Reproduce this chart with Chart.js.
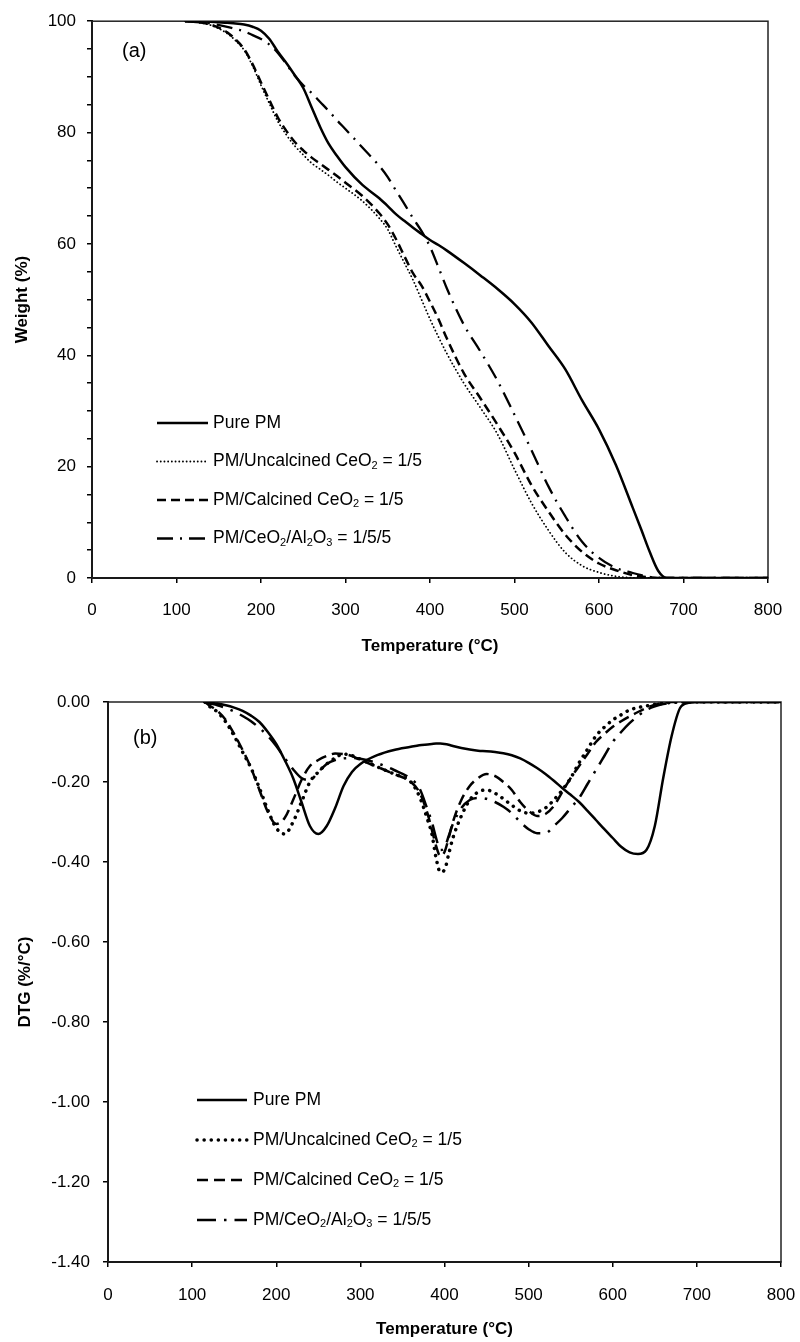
<!DOCTYPE html>
<html>
<head>
<meta charset="utf-8">
<script src="https://cdn.jsdelivr.net/npm/chart.js@4.4.1/dist/chart.umd.min.js"></script>
<style>
  html, body { margin: 0; padding: 0; background: #fff; }
  #wrap { position: relative; width: 800px; height: 1342px; }
  canvas { position: absolute; left: 0; }
  #tgaChart { top: 0; }
  #dtgChart { top: 665px; }
</style>
</head>
<body>
<div id="wrap">
  <canvas id="tgaChart" width="800" height="665"></canvas>
  <canvas id="dtgChart" width="800" height="677"></canvas>
</div>
<script>
// ---- data (a): weight loss vs temperature ----
const tempA = [110, 120, 140, 160, 170, 180, 190, 200, 210, 220, 230, 240, 250, 260, 270, 280, 290, 300,
  320, 340, 350, 360, 370, 380, 390, 400, 410, 420, 440, 460, 480, 500, 520, 540, 560, 580, 600, 620,
  640, 650, 660, 670, 680, 700, 750, 800];
const purePmA = [100, 100, 99.9, 99.7, 99.6, 99.4, 99.0, 98.3, 96.8, 94.5, 92.5, 90.3, 88, 84.5, 81, 78, 75.8, 73.8,
  70.6, 68.2, 66.8, 65.3, 64.1, 62.9, 61.8, 60.7, 59.8, 58.8, 56.6, 54.3, 51.9, 49.2, 45.9, 41.7, 37.5, 31.9, 26.7, 20.3,
  12.6, 8.7, 4.7, 1.3, 0, 0, 0, 0];
const uncalcinedA = [100, 99.9, 99.3, 97.8, 96.5, 94.8, 92, 88.5, 85.2, 82, 79.6, 77.6, 76, 74.5, 73.4, 72.3, 71.1, 70,
  67.7, 64.6, 62.6, 59.5, 56.5, 53.5, 50, 46.5, 43.3, 40.3, 35, 30.5, 25.8, 19.5, 13.5, 8.6, 4.6, 2.2, 1, 0.3,
  0.05, 0, 0, 0, 0, 0, 0, 0];
const calcinedA = [100, 99.9, 99.4, 98, 96.7, 95, 92.3, 89, 85.8, 82.7, 80.3, 78.3, 76.8, 75.5, 74.4, 73.3, 72.2, 71,
  68.6, 65.5, 63.5, 60.8, 57.7, 54.7, 52.5, 49.6, 46.5, 43, 36.8, 32.2, 27.5, 22.5, 16.7, 12, 7.8, 4.7, 2.6, 1.4,
  0.5, 0.25, 0.1, 0, 0, 0, 0, 0];
const ceAlA = [100, 99.9, 99.6, 99, 98.6, 98.2, 97.5, 96.8, 95.8, 94.3, 92.3, 90.2, 88.5, 87.1, 85.5, 83.9, 82.2, 80.6,
  77.3, 74, 72, 69.5, 67.1, 64.6, 62.3, 59.5, 55.8, 52, 45.5, 40.6, 35.4, 29.3, 23, 16.5, 11.1, 6.5, 3.6, 1.8,
  0.9, 0.5, 0.2, 0.05, 0, 0, 0, 0];

// ---- data (b): DTG vs temperature ----
const tempB = [115, 120, 130, 140, 150, 160, 170, 180, 190, 200, 210, 220, 230, 240, 250, 260, 270, 280, 290, 300,
  320, 340, 360, 370, 380, 385, 390, 395, 400, 405, 410, 420, 430, 440, 450, 460, 470, 480, 490, 500,
  510, 520, 530, 540, 550, 560, 570, 580, 590, 600, 610, 620, 630, 640, 650, 660, 670, 680, 690, 700, 750, 800];
const purePmB = [0, -0.002, -0.004, -0.008, -0.014, -0.022, -0.034, -0.05, -0.075, -0.105, -0.145, -0.19, -0.25, -0.31, -0.33, -0.31, -0.265, -0.21, -0.175, -0.155,
  -0.133, -0.12, -0.112, -0.108, -0.106, -0.105, -0.104, -0.104, -0.105, -0.107, -0.11, -0.115, -0.119, -0.122, -0.123, -0.125, -0.128, -0.133, -0.141, -0.152,
  -0.165, -0.18, -0.197, -0.215, -0.232, -0.25, -0.272, -0.295, -0.318, -0.34, -0.362, -0.376, -0.38, -0.37, -0.31, -0.19, -0.085, -0.015, -0.002, 0, 0, 0];
const uncalcinedB = [0, -0.01, -0.025, -0.05, -0.085, -0.125, -0.165, -0.215, -0.27, -0.315, -0.33, -0.3, -0.25, -0.2, -0.175, -0.155, -0.14, -0.13, -0.134, -0.143,
  -0.162, -0.18, -0.2, -0.235, -0.295, -0.33, -0.39, -0.425, -0.42, -0.38, -0.34, -0.285, -0.245, -0.225, -0.22, -0.228, -0.242, -0.258, -0.272, -0.278,
  -0.275, -0.265, -0.245, -0.22, -0.19, -0.152, -0.118, -0.085, -0.063, -0.045, -0.032, -0.02, -0.014, -0.01, -0.006, -0.003, -0.001, 0, 0, 0, 0, 0];
const calcinedB = [0, -0.008, -0.022, -0.045, -0.08, -0.12, -0.165, -0.22, -0.275, -0.305, -0.29, -0.245, -0.195, -0.16, -0.145, -0.135, -0.129, -0.13, -0.135, -0.145,
  -0.162, -0.18, -0.2, -0.225, -0.28, -0.32, -0.36, -0.385, -0.375, -0.34, -0.3, -0.245, -0.21, -0.19, -0.18, -0.185, -0.2, -0.22, -0.25, -0.272,
  -0.285, -0.28, -0.26, -0.225, -0.19, -0.16, -0.13, -0.1, -0.08, -0.062, -0.048, -0.036, -0.025, -0.015, -0.007, -0.002, 0, 0, 0, 0, 0, 0];
const ceAlB = [0, -0.003, -0.008, -0.015, -0.024, -0.035, -0.048, -0.065, -0.085, -0.11, -0.14, -0.168, -0.19, -0.195, -0.175, -0.155, -0.145, -0.141, -0.14, -0.142,
  -0.153, -0.17, -0.192, -0.215, -0.27, -0.3, -0.34, -0.37, -0.365, -0.335, -0.305, -0.265, -0.245, -0.24, -0.242, -0.25, -0.262, -0.278, -0.3, -0.318,
  -0.328, -0.328, -0.31, -0.29, -0.265, -0.24, -0.205, -0.17, -0.135, -0.1, -0.075, -0.053, -0.035, -0.02, -0.011, -0.005, -0.002, 0, 0, 0, 0, 0];

const seriesLabels = ['Pure PM', 'PM/Uncalcined CeO₂ = 1/5', 'PM/Calcined CeO₂ = 1/5', 'PM/CeO₂/Al₂O₃ = 1/5/5'];
const xTicks = { min: 0, max: 800, step: 100 };

const FONT = '"Liberation Sans", Arial, sans-serif';
const SUBS = { '₂': '2', '₃': '3' };

// draws a label with small lowered digits for the subscripts
function drawRichText(ctx, text, x, y, size) {
  let run = '', sub = false;
  const flush = () => {
    if (!run) return;
    ctx.font = (sub ? Math.round(size * 0.64) : size) + 'px ' + FONT;
    ctx.fillText(run, x, sub ? y + size * 0.24 : y);
    x += ctx.measureText(run).width;
    run = '';
  };
  for (const ch of text) {
    const isSub = ch in SUBS;
    if (isSub !== sub) { flush(); sub = isSub; }
    run += isSub ? SUBS[ch] : ch;
  }
  flush();
}

// box round the plot area
const frame = {
  id: 'frame',
  beforeDatasetsDraw(chart) {
    const { ctx, chartArea: a } = chart;
    ctx.save();
    ctx.strokeStyle = '#222';
    ctx.lineWidth = 1.5;
    ctx.strokeRect(a.left, a.top, a.right - a.left, a.bottom - a.top);
    ctx.restore();
  }
};

// legend drawn inside the plot, one row per dataset
const insideLegend = {
  id: 'insideLegend',
  afterDatasetsDraw(chart, args, opts) {
    const ctx = chart.ctx;
    ctx.save();
    ctx.textBaseline = 'middle';
    ctx.fillStyle = '#000';
    chart.data.datasets.forEach((ds, i) => {
      const y = opts.y + i * opts.rowGap;
      ctx.beginPath();
      ctx.lineWidth = ds.borderWidth;
      ctx.strokeStyle = ds.borderColor;
      ctx.lineCap = ds.borderCapStyle || 'butt';
      ctx.setLineDash(ds.borderDash || []);
      ctx.moveTo(opts.x, y);
      ctx.lineTo(opts.x + opts.lineLen, y);
      ctx.stroke();
      ctx.setLineDash([]);
      drawRichText(ctx, ds.label, opts.x + opts.lineLen + opts.gap, y, opts.fontSize);
    });
    ctx.restore();
  }
};

const panelLabel = {
  id: 'panelLabel',
  afterDraw(chart, args, opts) {
    const ctx = chart.ctx;
    ctx.save();
    ctx.font = '20px ' + FONT;
    ctx.fillStyle = '#000';
    ctx.textBaseline = 'middle';
    ctx.fillText(opts.text, opts.x, opts.y);
    ctx.restore();
  }
};

function points(temps, values) {
  return temps.map((t, i) => ({ x: t, y: values[i] }));
}

function line(label, temps, values, width, dash, cap) {
  return {
    label: label,
    data: points(temps, values),
    borderColor: '#000',
    borderWidth: width,
    borderDash: dash,
    borderCapStyle: cap || 'butt',
    pointRadius: 0,
    fill: false,
    cubicInterpolationMode: 'monotone'
  };
}

function xAxis(boxHeight, tickPad, titlePad) {
  return {
    type: 'linear',
    min: xTicks.min,
    max: xTicks.max,
    // fixed box height; keep the edge labels from shrinking the plot
    afterFit: s => { s.height = boxHeight; s.paddingLeft = 10; s.paddingRight = 16; },
    border: { color: '#000', width: 2 },
    grid: { drawOnChartArea: false, drawTicks: true, tickLength: 5, color: '#000', lineWidth: 1.5 },
    ticks: { stepSize: xTicks.step, autoSkip: false, maxRotation: 0, padding: tickPad, color: '#000', font: { family: FONT, size: 17 } },
    title: { display: true, text: 'Temperature (°C)', color: '#000', font: { family: FONT, size: 17, weight: 'bold' }, padding: { top: 0, bottom: titlePad } }
  };
}

// ---- chart (a) ----
new Chart(document.getElementById('tgaChart'), {
  type: 'line',
  data: {
    datasets: [
      line(seriesLabels[0], tempA, purePmA, 2.5, []),
      line(seriesLabels[1], tempA, uncalcinedA, 1.8, [0.1, 3.6], 'round'),
      line(seriesLabels[2], tempA, calcinedA, 2.5, [9, 5]),
      line(seriesLabels[3], tempA, ceAlA, 2.3, [16, 7, 2, 7])
    ]
  },
  options: {
    responsive: false,
    animation: false,
    events: [],
    layout: { padding: { top: 19, right: 32, left: 0, bottom: 0 } },
    scales: {
      x: xAxis(87, 17, 8),
      y: {
        min: 0,
        max: 100,
        afterFit: s => { s.width = 92; },
        border: { color: '#000', width: 2 },
        grid: { drawOnChartArea: false, drawTicks: true, tickLength: 5, color: '#000', lineWidth: 1.5 },
        ticks: {
          stepSize: 5,
          autoSkip: false,
          padding: 11,
          color: '#000',
          font: { family: FONT, size: 17 },
          callback: v => (v % 20 === 0 ? String(v) : '')
        },
        title: { display: true, text: 'Weight (%)', color: '#000', font: { family: FONT, size: 17, weight: 'bold' }, padding: { top: 12, bottom: 0 } }
      }
    },
    plugins: {
      legend: { display: false },
      tooltip: { enabled: false },
      insideLegend: { x: 157, y: 423, rowGap: 38.5, lineLen: 51, gap: 5, fontSize: 17.5 },
      panelLabel: { text: '(a)', x: 122, y: 51 }
    }
  },
  plugins: [frame, insideLegend, panelLabel]
});

// ---- chart (b) ----
new Chart(document.getElementById('dtgChart'), {
  type: 'line',
  data: {
    datasets: [
      line(seriesLabels[0], tempB, purePmB, 2.5, []),
      line(seriesLabels[1], tempB, uncalcinedB, 3.5, [0.1, 7], 'round'),
      line(seriesLabels[2], tempB, calcinedB, 2.5, [11, 6]),
      line(seriesLabels[3], tempB, ceAlB, 2.5, [19, 8, 2.5, 8])
    ]
  },
  options: {
    responsive: false,
    animation: false,
    events: [],
    layout: { padding: { top: 37, right: 19, left: 0, bottom: 0 } },
    scales: {
      x: xAxis(80, 18, 2),
      y: {
        min: -1.4,
        max: 0,
        afterFit: s => { s.width = 108; },
        border: { color: '#000', width: 2 },
        grid: { drawOnChartArea: false, drawTicks: true, tickLength: 5, color: '#000', lineWidth: 1.5 },
        ticks: {
          stepSize: 0.2,
          autoSkip: false,
          padding: 13,
          color: '#000',
          font: { family: FONT, size: 17 },
          callback: v => Number(v).toFixed(2)
        },
        title: { display: true, text: 'DTG (%/°C)', color: '#000', font: { family: FONT, size: 17, weight: 'bold' }, padding: { top: 15, bottom: 0 } }
      }
    },
    plugins: {
      legend: { display: false },
      tooltip: { enabled: false },
      insideLegend: { x: 197, y: 435, rowGap: 40, lineLen: 50, gap: 6, fontSize: 17.5 },
      panelLabel: { text: '(b)', x: 133, y: 73 }
    }
  },
  plugins: [frame, insideLegend, panelLabel]
});
</script>
</body>
</html>
